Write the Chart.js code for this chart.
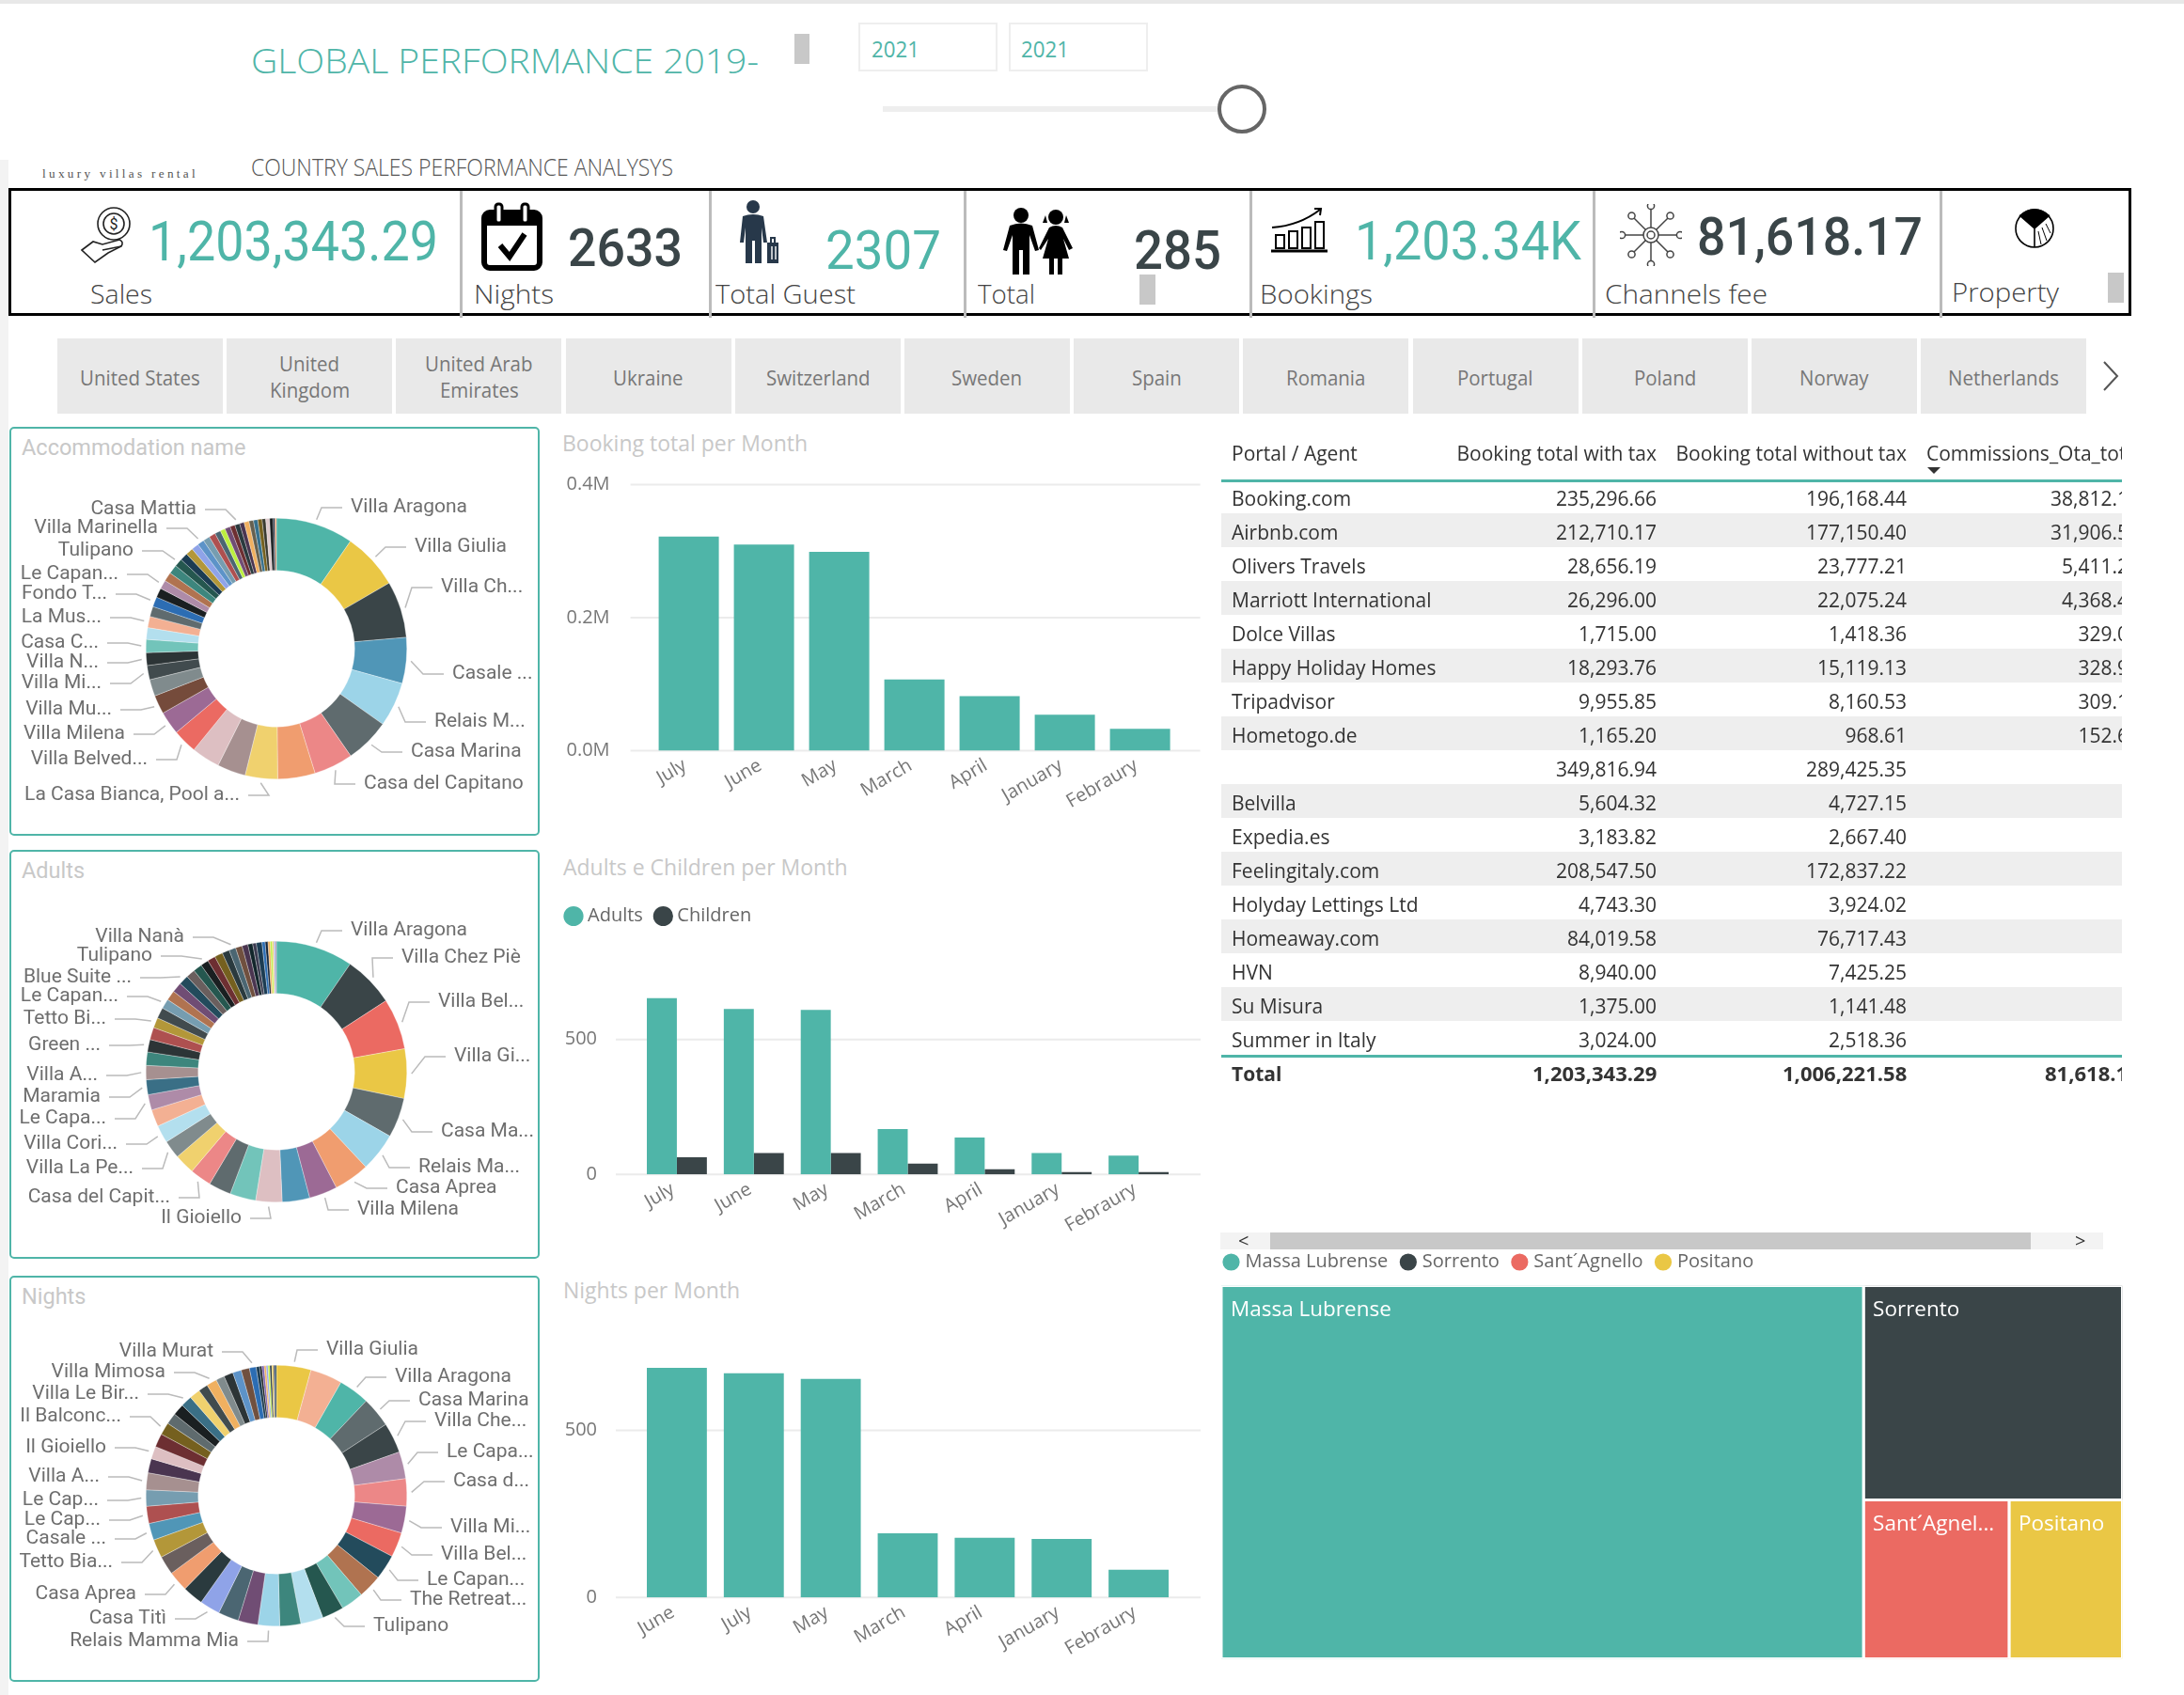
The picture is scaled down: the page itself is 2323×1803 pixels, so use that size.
<!DOCTYPE html>
<html>
<head>
<meta charset="utf-8">
<title>Global performance</title>
<script src="https://cdn.jsdelivr.net/npm/chart.js@4"></script>
<style>
html, body { margin: 0; background: #fff; }
#page { position: relative; width: 2323px; height: 1803px; overflow: hidden; background: #fff; }
#page div, #page canvas, #page svg { position: absolute; }
</style>
</head>
<body>
<div id="page"></div>
<script>
// ---- data ----
var months = ["July", "June", "May", "March", "April", "January", "Febraury"];
var nightMonths = ["June", "July", "May", "March", "April", "January", "Febraury"];
var bookingTotals = [322000, 310000, 299000, 107000, 82000, 54000, 33000];
var adultsPerMonth = [653, 613, 610, 168, 137, 79, 70];
var childrenPerMonth = [64, 79, 79, 40, 19, 9, 9];
var nightsPerMonth = [687, 671, 654, 192, 179, 175, 83];
var bookingTicks = [0, 200000, 400000];
var countTicks = [0, 500];

var zoneNames = ["Massa Lubrense", "Sorrento", "Sant\u00b4Agnello", "Positano"];
var zoneCellLabels = ["Massa Lubrense", "Sorrento", "Sant\u00b4Agnel...", "Positano"];
var zoneSales = [857700, 198500, 82800, 64500];

// ring values are estimated shares, slice by slice, biggest first
var accommodationValues = [34.4, 25.1, 25.1, 20.4, 19.8, 19.8, 17.4, 16.6, 14.4, 12.6, 12.6, 10.8, 10.3, 8.3, 7.4, 6.3, 5.7, 5.8, 5.2, 5, 4.5, 4.4, 4.2, 3.9, 4, 4, 3.6, 3.4, 3.3, 3.2, 3, 3, 2.9, 2.6, 2.2, 2.4, 2.2, 2.2, 2, 2.2, 2, 1.9, 1.9, 1.6, 1.7, 1.6, 0.8, 0.6];
var accommodationColors = ["#4fb5a8", "#eac745", "#3a4548", "#5096b7", "#9cd4e8", "#5f6b6e", "#ec8787", "#f09d6f", "#f0d16e", "#a69090", "#ddbfc2", "#eb6a62", "#9c6a95", "#754b3b", "#808b8d", "#414b4e", "#2c3436", "#72c4ba", "#b3dfee", "#f3b093", "#5f6b6e", "#2c6db3", "#1a1f21", "#ae8ba8", "#b07350", "#3d867d", "#25574f", "#1c3c52", "#b39739", "#8fa3e8", "#5d93c8", "#769db0", "#ae5050", "#4b6672", "#bcef3f", "#704d74", "#6d2f32", "#2a3a3e", "#4a3550", "#f0b060", "#66604f", "#356f8c", "#75601f", "#3a3a30", "#ddc9cb", "#1a1f21", "#17263a", "#f09d6f"];
var accommodationLabelSlices = [0, 1, 2, 3, 4, 5, 6, 8, 11, 12, 13, 15, 16, 17, 19, 21, 23, 26, 30, 37];
var accommodationLabels = ["Villa Aragona", "Villa Giulia", "Villa Ch...", "Casale ...", "Relais M...", "Casa Marina", "Casa del Capitano", "La Casa Bianca, Pool a...", "Villa Belved...", "Villa Milena", "Villa Mu...", "Villa Mi...", "Villa N...", "Casa C...", "La Mus...", "Fondo T...", "Le Capan...", "Tulipano", "Villa Marinella", "Casa Mattia"];

var adultsValues = [34, 22.4, 22.5, 21.8, 17.5, 17, 15.7, 12.4, 12.1, 11.6, 11.4, 9.9, 9.5, 8.9, 8, 7.8, 7.5, 6.8, 6.6, 6.2, 5.9, 5.5, 5.4, 4.5, 4.8, 4.3, 4.4, 4.4, 4.3, 4, 3.9, 3.5, 3.5, 3.6, 3.2, 3, 2.9, 2.6, 2.1, 1.6, 2.5, 1.4, 1.2, 1, 0.9, 0.7, 0.6, 0.5];
var adultsColors = ["#4fb5a8", "#3a4548", "#eb6a62", "#eac745", "#5f6b6e", "#9cd4e8", "#f09d6f", "#9c6a95", "#5096b7", "#ddbfc2", "#72c4ba", "#5f6b6e", "#ec8787", "#f0d16e", "#808b8d", "#b3dfee", "#f3b093", "#ae8ba8", "#3a6f86", "#a69090", "#3d867d", "#2c3436", "#ae5050", "#b39739", "#414b4e", "#769db0", "#b07350", "#704d74", "#234b5c", "#6a5f5e", "#25574f", "#1a1f21", "#6d2f32", "#75601f", "#2a3a3e", "#4b6672", "#70503f", "#4a3550", "#12262b", "#3b3b50", "#1c3c52", "#2c6db3", "#17263a", "#f0b060", "#bcef3f", "#f0d16e", "#8fa3e8", "#ae8ba8"];
var adultsLabelSlices = [0, 1, 2, 3, 4, 5, 6, 7, 9, 12, 14, 15, 17, 18, 19, 21, 23, 25, 28, 31, 35];
var adultsLabels = ["Villa Aragona", "Villa Chez Pi\u00e8", "Villa Bel...", "Villa Gi...", "Casa Ma...", "Relais Ma...", "Casa Aprea", "Villa Milena", "Il Gioiello", "Casa del Capit...", "Villa La Pe...", "Villa Cori...", "Le Capa...", "Maramia", "Villa A...", "Green ...", "Tetto Bi...", "Le Capan...", "Blue Suite ...", "Tulipano", "Villa Nan\u00e0"];

var nightsValues = [15.3, 14.2, 13.7, 13.4, 13.4, 12, 12.1, 11.9, 11, 11.1, 10.5, 10, 9.6, 10, 9.3, 9.6, 8.8, 9.1, 9, 9.2, 9, 8.3, 8.2, 7.5, 7.6, 7.2, 7.5, 6.3, 5.6, 6, 5.5, 5, 5.1, 5, 4.8, 4.2, 4.6, 3.8, 4.1, 3.8, 3.7, 3, 1.5, 1, 1, 0.9, 0.8, 0.8, 0.9, 0.7, 0.6, 0.7];
var nightsColors = ["#eac745", "#f3b093", "#4fb5a8", "#5f6b6e", "#3a4548", "#ae8ba8", "#ec8787", "#9c6a95", "#eb6a62", "#234b5c", "#b07350", "#72c4ba", "#25574f", "#b3dfee", "#3d867d", "#9cd4e8", "#704d74", "#4b6672", "#8fa3e8", "#2a3a3e", "#f09d6f", "#6a5f5e", "#b39739", "#5096b7", "#ae5050", "#769db0", "#a69090", "#4a3550", "#ddbfc2", "#6d2f32", "#75601f", "#5f6b6e", "#1a1f21", "#3a6f86", "#f0d16e", "#414b4e", "#f0b060", "#808b8d", "#2c3436", "#5d93c8", "#70503f", "#2c6db3", "#1c3c52", "#1a1f21", "#7a5fb0", "#f0b060", "#8fa3e8", "#bcef3f", "#2a3a3e", "#eac745", "#3b3b50", "#1c3c52"];
var nightsLabelSlices = [0, 2, 3, 4, 5, 6, 7, 8, 9, 10, 12, 15, 18, 20, 22, 23, 24, 25, 26, 28, 30, 33, 36, 41];
var nightsLabels = ["Villa Giulia", "Villa Aragona", "Casa Marina", "Villa Che...", "Le Capa...", "Casa d...", "Villa Mi...", "Villa Bel...", "Le Capan...", "The Retreat...", "Tulipano", "Relais Mamma Mia", "Casa Tit\u00ec", "Casa Aprea", "Tetto Bia...", "Casale ...", "Le Cap...", "Le Cap...", "Villa A...", "Il Gioiello", "Il Balconc...", "Villa Le Bir...", "Villa Mimosa", "Villa Murat"];

var countries = [["United States"], ["United", "Kingdom"], ["United Arab", "Emirates"], ["Ukraine"], ["Switzerland"], ["Sweden"], ["Spain"], ["Romania"], ["Portugal"], ["Poland"], ["Norway"], ["Netherlands"]];

var portals = ["Booking.com", "Airbnb.com", "Olivers Travels", "Marriott International", "Dolce Villas", "Happy Holiday Homes", "Tripadvisor", "Hometogo.de", "", "Belvilla", "Expedia.es", "Feelingitaly.com", "Holyday Lettings Ltd", "Homeaway.com", "HVN", "Su Misura", "Summer in Italy"];
var withTax = ["235,296.66", "212,710.17", "28,656.19", "26,296.00", "1,715.00", "18,293.76", "9,955.85", "1,165.20", "349,816.94", "5,604.32", "3,183.82", "208,547.50", "4,743.30", "84,019.58", "8,940.00", "1,375.00", "3,024.00"];
var withoutTax = ["196,168.44", "177,150.40", "23,777.21", "22,075.24", "1,418.36", "15,119.13", "8,160.53", "968.61", "289,425.35", "4,727.15", "2,667.40", "172,837.22", "3,924.02", "76,717.43", "7,425.25", "1,141.48", "2,518.36"];
var commissions = ["38,812.17", "31,906.55", "5,411.25", "4,368.45", "329.05", "328.95", "309.15", "152.65"];

// ---- label spots around the rings, relative to the ring centre ----
var accommodationSpots = [[79, -152], [147, -110], [175, -67], [187, 25], [168, 76], [143, 108], [93, 142], [-39, 154], [-137, 116], [-161, 89], [-175, 63], [-186, 35], [-189, 13], [-189, -8], [-186, -35], [-180, -60], [-168, -81], [-152, -106], [-126, -130], [-85, -150]];
var adultsSpots = [[79, -152], [133, -123], [172, -76], [189, -18], [175, 62], [151, 100], [127, 122], [86, 145], [-37, 154], [-113, 132], [-152, 101], [-169, 75], [-181, 48], [-187, 25], [-190, 2], [-187, -30], [-181, -58], [-168, -82], [-154, -102], [-132, -125], [-98, -145]];
var nightsSpots = [[53, -157], [126, -128], [151, -103], [168, -81], [181, -48], [188, -17], [185, 32], [175, 61], [160, 88], [142, 109], [103, 137], [-40, 153], [-117, 129], [-149, 103], [-174, 69], [-181, 44], [-187, 24], [-189, 3], [-188, -22], [-181, -53], [-165, -86], [-146, -110], [-118, -133], [-67, -155]];

var TEAL = "#4fb5a8";
var DARK = "#3a4548";
var UI_FONT = "'Open Sans', sans-serif";
var DIN_FONT = "Roboto, sans-serif";
var page = document.getElementById("page");

Chart.defaults.animation = false;
Chart.defaults.font.family = UI_FONT;

function box(x, y, w, h, css, parent) {
    var d = document.createElement("div");
    d.style.cssText = "left:" + x + "px;top:" + y + "px;width:" + w + "px;height:" + h + "px;box-sizing:border-box;" + (css || "");
    (parent || page).appendChild(d);
    return d;
}

// text placed by its vertical centre, optionally squeezed to a given width
function txt(s, x, yc, size, color, o) {
    o = o || {};
    var lh = Math.round(size * 1.4);
    var d = document.createElement("div");
    d.textContent = s;
    d.style.cssText = "white-space:nowrap;transform-origin:0 50%;line-height:" + lh + "px;font-size:" + size + "px;color:" + color +
        ";font-family:" + (o.font || UI_FONT) + ";font-weight:" + (o.weight || 400) + ";letter-spacing:" + (o.spacing || 0) + "px;top:" + (yc - lh / 2) + "px;left:0";
    (o.parent || page).appendChild(d);
    var w = d.getBoundingClientRect().width;
    var sx = o.w ? o.w / w : (o.sx || 1);
    var left = x;
    if (o.align == "right") left = x - w * sx;
    if (o.align == "center") left = x - w * sx / 2;
    d.style.left = left + "px";
    if (sx != 1) d.style.transform = "scaleX(" + sx + ")";
    return d;
}

function icon(x, y, w, h, vbW, vbH, inner) {
    var wrap = box(x, y, w, h);
    wrap.innerHTML = '<svg style="left:0;top:0" width="' + w + '" height="' + h + '" viewBox="0 0 ' + vbW + ' ' + vbH + '">' + inner + '</svg>';
}

function addCanvas(x, y, w, h) {
    var c = document.createElement("canvas");
    c.width = w; c.height = h;
    c.style.cssText = "left:" + x + "px;top:" + y + "px;width:" + w + "px;height:" + h + "px";
    page.appendChild(c);
    return c;
}

// ---- header ----
box(0, 0, 2323, 4, "background:#e8e8e8");
box(0, 170, 9, 1633, "background:#f3f3f3");
txt("GLOBAL PERFORMANCE 2019-", 267, 65, 36, TEAL, { w: 540, weight: 300 });
box(845, 36, 16, 32, "background:#c8c8c8");
box(913, 24, 148, 52, "border:2px solid #eeeeee");
box(1073, 24, 148, 52, "border:2px solid #eeeeee");
txt("2021", 927, 52, 24, TEAL, { w: 51 });
txt("2021", 1086, 52, 24, TEAL, { w: 51 });
box(939, 113, 360, 6, "background:#eeeeee");
box(1295, 90, 52, 52, "border:4px solid #666666;border-radius:50%;background:#fff");
txt("luxury villas rental", 45, 185, 12, "#555", { w: 166, font: "'Liberation Serif', serif", spacing: 3 });
txt("COUNTRY SALES PERFORMANCE ANALYSYS", 267, 177, 26, "#555", { w: 449, weight: 300 });

// ---- KPI strip ----
box(9, 200, 2258, 136, "border:3px solid #000");
[489, 754, 1025, 1329, 1694, 2063].forEach(function (x) { box(x, 203, 3, 135, "background:#bbbbbb"); });
txt("1,203,343.29", 158, 256, 59, TEAL, { w: 308, font: DIN_FONT });
txt("2633", 604, 264, 56, DARK, { w: 122, font: DIN_FONT, weight: 500 });
txt("2307", 878, 266, 58, TEAL, { w: 123, font: DIN_FONT });
txt("285", 1206, 266, 58, DARK, { w: 93, font: DIN_FONT, weight: 500 });
txt("1,203.34K", 1441, 256, 58, TEAL, { w: 241, font: DIN_FONT });
txt("81,618.17", 1805, 252, 56, DARK, { w: 240, font: DIN_FONT, weight: 500 });
txt("Sales", 96, 312, 28, "#444", { w: 66, weight: 300 });
txt("Nights", 504, 312, 28, "#444", { w: 85, weight: 300 });
txt("Total Guest", 761, 312, 28, "#444", { w: 149, weight: 300 });
txt("Total", 1040, 312, 28, "#444", { w: 61, weight: 300 });
txt("Bookings", 1340, 312, 28, "#444", { w: 120, weight: 300 });
txt("Channels fee", 1707, 312, 28, "#444", { w: 173, weight: 300 });
txt("Property", 2076, 310, 28, "#444", { w: 114, weight: 300 });
box(1212, 292, 17, 32, "background:#c8c8c8");
box(2242, 290, 17, 32, "background:#c8c8c8");

icon(85, 219, 56, 62, 56, 62,
    '<g fill="none" stroke="#222" stroke-width="1.6"><circle cx="36" cy="19" r="17"/><circle cx="36" cy="19" r="11"/><path d="M2 47 L14 38 L24 41 L42 36 Q47 38 44 43 L30 50 L16 60 Z"/><path d="M24 47 L44 43"/></g><text x="36" y="25" font-size="16" text-anchor="middle" fill="#222" font-family="Roboto">$</text>');
icon(512, 215, 65, 73, 65, 73,
    '<rect x="3" y="11" width="59" height="59" rx="6" fill="#fff" stroke="#000" stroke-width="6"/><rect x="3" y="11" width="59" height="14" fill="#000"/><rect x="15" y="2" width="7" height="20" rx="3" fill="#fff" stroke="#000" stroke-width="3"/><rect x="43" y="2" width="7" height="20" rx="3" fill="#fff" stroke="#000" stroke-width="3"/><path d="M20 46 L30 58 L46 34" fill="none" stroke="#000" stroke-width="6"/>');
icon(786, 212, 46, 70, 46, 70,
    '<g fill="#27384a"><circle cx="15" cy="8" r="7"/><path d="M4 18 Q15 14 26 18 L30 46 L26 46 L24 30 L24 68 L17 68 L17 44 L14 44 L14 68 L7 68 L7 30 L5 46 L1 46 Z"/><path d="M30 46 h12 v22 h-12 Z M33 40 h6 v6 h-2 v-4 h-2 v4 h-2 Z"/></g><path d="M35 50 v14 M39 50 v14" stroke="#fff" stroke-width="1.4"/>');
icon(1065, 220, 80, 74, 80, 74,
    '<g fill="#000"><circle cx="21" cy="9" r="8"/><path d="M9 20 Q21 15 33 20 L40 46 L36 47 L30 30 L30 72 L23 72 L23 46 L19 46 L19 72 L12 72 L12 30 L6 47 L2 46 Z"/><circle cx="58" cy="11" r="8"/><path d="M47 9 l-3 8 h5 Z M69 9 l3 8 h-5 Z"/><path d="M51 22 Q58 18 65 22 L76 44 L72 46 L66 34 L72 55 L65 55 L65 72 L60 72 L60 55 L56 55 L56 72 L51 72 L51 55 L44 55 L50 34 L42 46 L40 44 Z"/></g>');
icon(1352, 220, 60, 50, 60, 50,
    '<g fill="none" stroke="#000" stroke-width="2"><rect x="5" y="30" width="9" height="14"/><rect x="19" y="26" width="9" height="18"/><rect x="33" y="22" width="9" height="22"/><rect x="47" y="16" width="9" height="28"/><path d="M1 22 Q30 20 52 3"/><path d="M46 2 L53 2 L52 9"/></g><path d="M0 47 H60" stroke="#000" stroke-width="3"/>');
(function () {
    var s = '<g fill="#fff" stroke="#444" stroke-width="1.5">';
    for (var i = 0; i < 8; i++) {
        var a = i * Math.PI / 4, r = i % 2 ? 29 : 31;
        s += '<line x1="33" y1="33" x2="' + (33 + Math.cos(a) * r) + '" y2="' + (33 + Math.sin(a) * r) + '"/>';
        s += '<circle cx="' + (33 + Math.cos(a) * r) + '" cy="' + (33 + Math.sin(a) * r) + '" r="3.6"/>';
    }
    s += '<circle cx="33" cy="33" r="8"/><circle cx="33" cy="33" r="4"/></g>';
    icon(1723, 217, 66, 66, 66, 66, s);
})();
icon(2141, 220, 46, 44, 46, 44,
    '<circle cx="23" cy="23" r="20" fill="#fff" stroke="#000" stroke-width="1.6"/><path d="M23 23 L7 9 A22 22 0 0 1 39 9 Z" fill="#000"/><path d="M23 23 L23 43 M23 23 L7 9 M23 23 L39 9" stroke="#000" stroke-width="1.6"/><path d="M27 26 L30 40 M31 22 L36 36 M35 18 L40 28" stroke="#000" stroke-width="1"/>');

// ---- country tabs ----
countries.forEach(function (lines, i) {
    var x = 61 + i * 180.2;
    box(x, 360, 176, 80, "background:#e9e9e9");
    lines.forEach(function (line, j) {
        var yc = lines.length == 1 ? 401 : 386 + j * 28;
        txt(line, x + 88, yc, 22, "#777", { align: "center", sx: 0.93 });
    });
});
icon(2234, 383, 22, 34, 22, 34, '<path d="M4 2 L18 17 L4 32" fill="none" stroke="#555" stroke-width="2"/>');

// ---- rings ----
var ringLabelPlugin = {
    id: "ringLabels",
    afterDraw: function (chart, args, opts) {
        var ctx = chart.ctx, arcs = chart.getDatasetMeta(0).data;
        ctx.save();
        ctx.font = "21px " + DIN_FONT;
        ctx.textBaseline = "middle";
        opts.slices.forEach(function (slice, i) {
            var arc = arcs[slice], mid = (arc.startAngle + arc.endAngle) / 2;
            var r = arc.outerRadius + 5;
            var side = opts.spots[i][0] > 0 ? 1 : -1;
            var tx = arc.x + opts.spots[i][0], ty = arc.y + opts.spots[i][1];
            ctx.beginPath();
            ctx.moveTo(arc.x + Math.cos(mid) * r, arc.y + Math.sin(mid) * r);
            ctx.lineTo(tx - side * 31, ty + 2);
            ctx.lineTo(tx - side * 9, ty + 2);
            ctx.strokeStyle = "#bbbbbb";
            ctx.lineWidth = 1.5;
            ctx.stroke();
            ctx.fillStyle = "#6e6e6e";
            ctx.textAlign = side > 0 ? "left" : "right";
            ctx.fillText(opts.texts[i], tx, ty + 1.5);
        });
        ctx.restore();
    }
};

function makeRing(title, top, height, values, colors, slices, texts, spots, ringCy) {
    box(10, top, 564, height, "border:2px solid " + TEAL + ";border-radius:5px");
    txt(title, 23, top + 22, 23.5, "#c8c8c8", { font: DIN_FONT });
    var canvas = addCanvas(10, top, 564, height);
    new Chart(canvas, {
        type: "doughnut",
        data: {
            labels: values.map(function (v, i) { return String(i); }),
            datasets: [{ data: values, backgroundColor: colors, borderColor: "rgba(255,255,255,0.6)", borderWidth: 0.5 }]
        },
        options: {
            responsive: false,
            cutout: "60%",
            layout: { padding: { left: 145, right: 141, top: ringCy - top - 139, bottom: height - (ringCy - top) - 139 } },
            plugins: {
                legend: { display: false },
                tooltip: { enabled: false },
                ringLabels: { slices: slices, texts: texts, spots: spots }
            }
        },
        plugins: [ringLabelPlugin]
    });
}

makeRing("Accommodation name", 454, 435, accommodationValues, accommodationColors, accommodationLabelSlices, accommodationLabels, accommodationSpots, 690);
makeRing("Adults", 904, 435, adultsValues, adultsColors, adultsLabelSlices, adultsLabels, adultsSpots, 1140);
makeRing("Nights", 1357, 432, nightsValues, nightsColors, nightsLabelSlices, nightsLabels, nightsSpots, 1591);

// ---- monthly bars ----
// grid runs past the plot on both sides, as it does in the report
var wideGridPlugin = {
    id: "wideGrid",
    beforeDatasetsDraw: function (chart, args, opts) {
        var ctx = chart.ctx, y = chart.scales.y, area = chart.chartArea;
        ctx.save();
        ctx.strokeStyle = "#ebebeb";
        ctx.lineWidth = 2;
        y.ticks.forEach(function (t) {
            var py = y.getPixelForValue(t.value);
            ctx.beginPath();
            ctx.moveTo(area.left - opts.left, py);
            ctx.lineTo(area.right + opts.right, py);
            ctx.stroke();
        });
        ctx.restore();
    }
};

// legend sits higher and further left than Chart.js would put it
var legendGapPlugin = {
    id: "legendGap",
    beforeInit: function (chart, args, opts) {
        var fit = chart.legend.fit;
        chart.legend.fit = function () {
            fit.call(this);
            this.height = opts.height;
        };
    },
    afterLayout: function (chart, args, opts) {
        chart.legend.left += opts.shift;
    }
};
var legendLabels = { usePointStyle: true, pointStyle: "circle", boxWidth: 10, boxHeight: 15, padding: 16.5, color: "#666", font: { size: 20 } };

function barOptions(cfg) {
    return {
        responsive: false,
        layout: { padding: cfg.padding },
        plugins: {
            legend: cfg.legend || { display: false },
            legendGap: cfg.legendGap,
            tooltip: { enabled: false },
            wideGrid: { left: cfg.gridLeft, right: cfg.gridRight }
        },
        scales: {
            x: {
                grid: { display: false, drawTicks: false },
                border: { display: false },
                afterFit: function (s) { s.height = cfg.xHeight; },
                ticks: { minRotation: 30, maxRotation: 30, autoSkip: false, padding: 4, labelOffset: -4, color: "#777", font: { size: 20 } }
            },
            y: {
                min: 0, max: cfg.max,
                grid: { display: false, drawTicks: true, tickLength: 44 },
                border: { display: false },
                afterFit: function (s) { s.width = cfg.yWidth; },
                afterBuildTicks: function (s) { s.ticks = cfg.tickValues.map(function (v) { return { value: v }; }); },
                ticks: { padding: 0, color: "#777", font: { size: 20 }, callback: cfg.tick }
            }
        }
    };
}

txt("Booking total per Month", 598, 471, 23, "#c8c8c8");
new Chart(addCanvas(590, 495, 700, 405), {
    type: "bar",
    data: {
        labels: months,
        datasets: [{ label: "Booking total", data: bookingTotals, backgroundColor: TEAL, categoryPercentage: 0.8, barPercentage: 1 }]
    },
    options: barOptions({
        padding: { top: 20.6, right: 37.4 }, xHeight: 101.5, yWidth: 102.6, max: 400000, tickValues: bookingTicks,
        gridLeft: 22, gridRight: 24,
        tick: function (v) { return (v / 1000000).toFixed(1) + "M"; }
    }),
    plugins: [wideGridPlugin]
});

txt("Adults e Children per Month", 599, 922, 23, "#c8c8c8");
new Chart(addCanvas(590, 943, 700, 397), {
    type: "bar",
    data: {
        labels: months,
        datasets: [
            { label: "Adults", data: adultsPerMonth, backgroundColor: TEAL, categoryPercentage: 0.78, barPercentage: 1 },
            { label: "Children", data: childrenPerMonth, backgroundColor: DARK, categoryPercentage: 0.78, barPercentage: 1 }
        ]
    },
    options: barOptions({
        padding: { top: 5, right: 38 }, xHeight: 90.7, yWidth: 89, max: 700, tickValues: countTicks,
        gridLeft: 24, gridRight: 25,
        legend: { position: "top", align: "start", labels: legendLabels },
        legendGap: { height: 100.3, shift: -1.5 }
    }),
    plugins: [wideGridPlugin, legendGapPlugin]
});

txt("Nights per Month", 599, 1372, 23, "#c8c8c8");
new Chart(addCanvas(590, 1430, 700, 370), {
    type: "bar",
    data: {
        labels: nightMonths,
        datasets: [{ label: "Nights", data: nightsPerMonth, backgroundColor: TEAL, categoryPercentage: 0.78, barPercentage: 1 }]
    },
    options: barOptions({
        padding: { top: 20.4, right: 38 }, xHeight: 100.7, yWidth: 89, max: 700, tickValues: countTicks,
        gridLeft: 24, gridRight: 25
    }),
    plugins: [wideGridPlugin]
});

// ---- portal table ----
var tableClip = box(0, 0, 2257, 1803, "overflow:hidden");
function cell(s, x, yc, o) {
    o = o || {};
    txt(s, x, yc, 21, o.color || "#333", { parent: tableClip, align: o.align, weight: o.weight, sx: o.sx });
}
cell("Portal / Agent", 1310, 482);
cell("Booking total with tax", 1762, 482, { align: "right" });
cell("Booking total without tax", 2028, 482, { align: "right" });
cell("Commissions_Ota_total", 2049, 482);
box(2050, 497, 14, 7, "width:0;height:0;border-left:7px solid transparent;border-right:7px solid transparent;border-top:7px solid #333;box-sizing:content-box");
box(1299, 510, 958, 3, "background:" + TEAL);
portals.forEach(function (name, i) {
    var yc = 530.5 + 36 * i;
    if (i % 2 == 1) {
        var band = box(1299, yc - 21, 958, 36, "background:#eeeeee", tableClip);
        tableClip.insertBefore(band, tableClip.firstChild);
    }
    cell(name, 1310, yc);
    cell(withTax[i], 1762, yc, { align: "right" });
    cell(withoutTax[i], 2028, yc, { align: "right" });
    if (commissions[i]) cell(commissions[i], 2276, yc, { align: "right" });
});
box(1299, 1122, 958, 3, "background:" + TEAL);
cell("Total", 1310, 1142, { weight: 700 });
cell("1,203,343.29", 1762, 1142, { align: "right", weight: 700, sx: 1.05 });
cell("1,006,221.58", 2028, 1142, { align: "right", weight: 700, sx: 1.05 });
cell("81,618.17", 2276, 1142, { align: "right", weight: 700, sx: 1.05 });

box(1298, 1311, 939, 18, "background:#f3f3f3");
box(1351, 1311, 809, 18, "background:#c8c8c8");
txt("<", 1317, 1320, 20, "#333");
txt(">", 2207, 1320, 20, "#333");

// ---- zone treemap, laid out from the sales values ----
function zoneCell(i) {
    var total = zoneSales.reduce(function (a, b) { return a + b; }, 0);
    var right = total - zoneSales[0];
    var bottom = zoneSales[2] + zoneSales[3];
    var x1 = zoneSales[0] / total;
    var y1 = zoneSales[1] / right;
    var x2 = x1 + (1 - x1) * zoneSales[2] / bottom;
    return [[0, 0, x1, 1], [x1, 0, 1, y1], [x1, y1, x2, 1], [x2, y1, 1, 1]][i];
}
function zoneShape(i) {
    var c = zoneCell(i);
    return [{ x: c[0], y: c[1] }, { x: c[2], y: c[1] }, { x: c[2], y: c[3] }, { x: c[0], y: c[3] }, { x: c[0], y: c[1] }];
}
var zoneColors = [TEAL, DARK, "#eb6a62", "#eac745"];
var zoneLabelPlugin = {
    id: "zoneLabels",
    afterDatasetsDraw: function (chart) {
        var ctx = chart.ctx, xs = chart.scales.x, ys = chart.scales.y;
        ctx.save();
        ctx.font = "22.5px " + UI_FONT;
        ctx.fillStyle = "#fff";
        ctx.textBaseline = "middle";
        zoneCellLabels.forEach(function (label, i) {
            var c = zoneCell(i);
            ctx.fillText(label, xs.getPixelForValue(c[0]) + 10, ys.getPixelForValue(c[1]) + 26);
        });
        ctx.restore();
    }
};
new Chart(addCanvas(1296, 1312, 975, 458), {
    type: "scatter",
    data: {
        datasets: zoneNames.map(function (name, i) {
            return { label: name, data: zoneShape(i), showLine: true, fill: "shape", backgroundColor: zoneColors[i], borderColor: "#ffffff", borderWidth: 3, pointRadius: 0, tension: 0 };
        })
    },
    options: {
        responsive: false,
        layout: { padding: { left: 3, right: 13.5, top: 4, bottom: 5.5 } },
        plugins: {
            tooltip: { enabled: false },
            legend: { position: "top", align: "start", labels: legendLabels },
            legendGap: { height: 51.5, shift: -11 }
        },
        scales: {
            x: { display: false, min: 0, max: 1 },
            y: { display: false, min: 0, max: 1, reverse: true }
        }
    },
    plugins: [zoneLabelPlugin, legendGapPlugin]
});
</script>
</body>
</html>
